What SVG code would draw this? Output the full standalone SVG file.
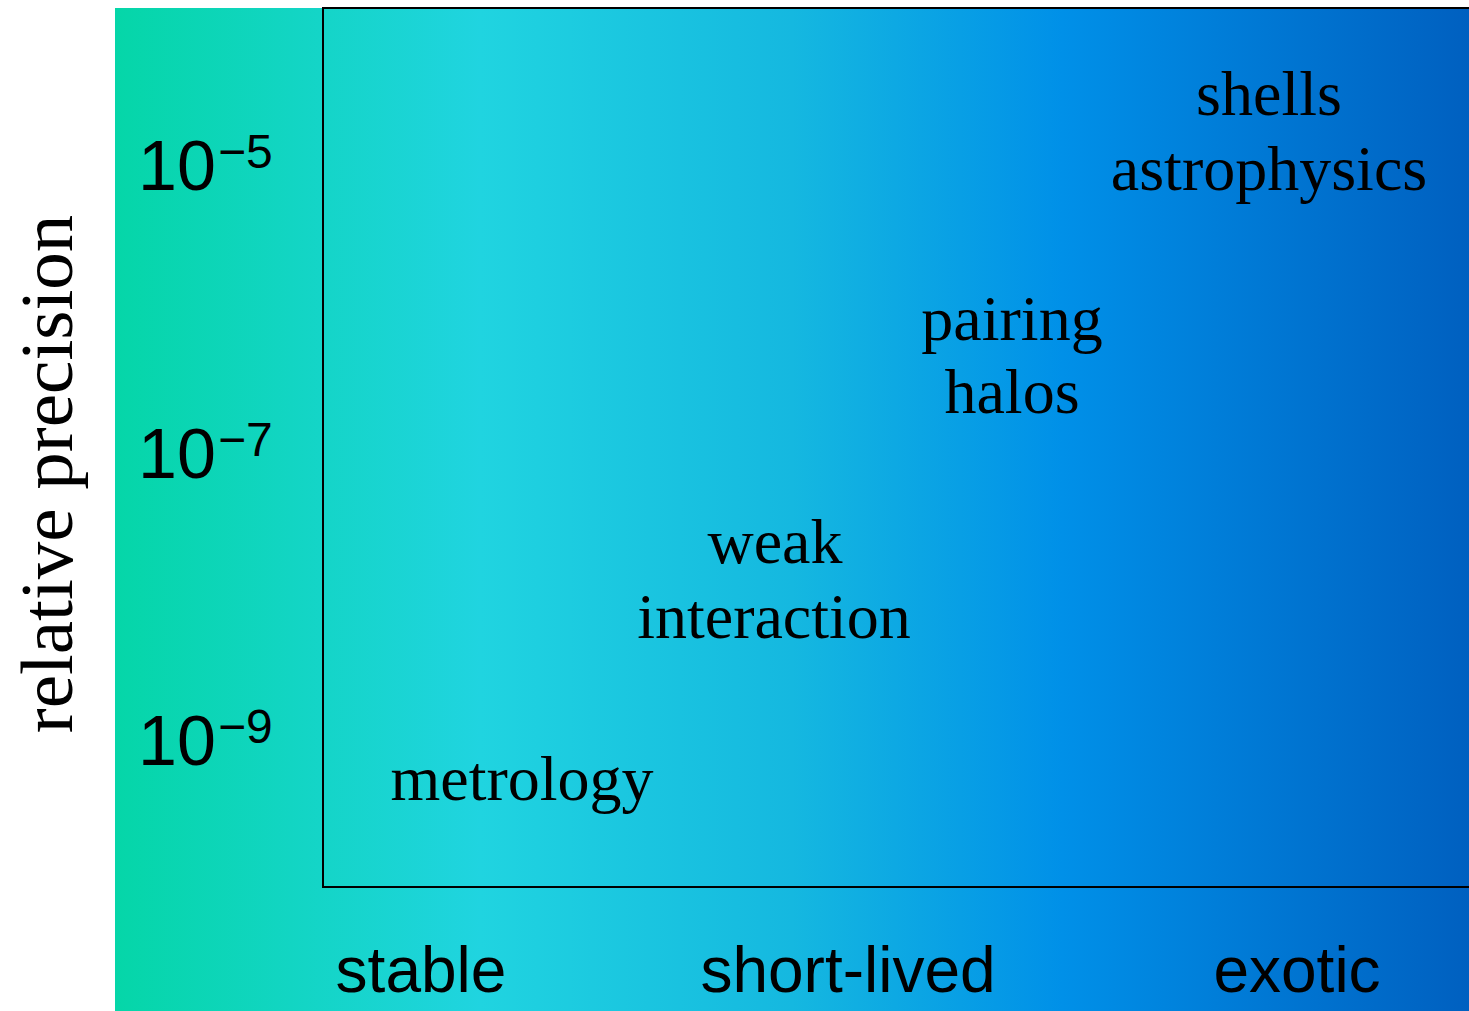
<svg xmlns="http://www.w3.org/2000/svg" width="1469" height="1011" viewBox="0 0 1469 1011">
<defs>
<linearGradient id="bg" x1="115" y1="0" x2="1469" y2="0" gradientUnits="userSpaceOnUse">
<stop offset="0" stop-color="#05d6a8"/>
<stop offset="0.27" stop-color="#20d4e0"/>
<stop offset="0.5" stop-color="#15b8e0"/>
<stop offset="0.7" stop-color="#0090e8"/>
<stop offset="1" stop-color="#0060c0"/>
</linearGradient>
<style>
.sans{font-family:"Liberation Sans",Arial,sans-serif;fill:#000}
.serif{font-family:"Liberation Serif","Times New Roman",serif;fill:#000}
.tick{font-size:70px}
.sup{font-size:48px}
.lab{font-size:64px;text-anchor:middle}
.cat{font-size:64px;text-anchor:middle}
</style>
</defs>
<rect x="0" y="0" width="1469" height="1011" fill="#fff"/>
<rect x="115" y="8" width="1354" height="1003" fill="url(#bg)"/>
<rect id="frame" x="323" y="8" width="1150" height="879" fill="none" stroke="#000" stroke-width="2"/>
<g id="yaxis">
<text class="serif" font-size="75" transform="translate(72,474) rotate(-90)" text-anchor="middle">relative precision</text>
<text class="sans tick" x="138" y="190">10<tspan class="sup" dx="2" dy="-22">−5</tspan></text>
<text class="sans tick" x="138" y="478">10<tspan class="sup" dx="2" dy="-22">−7</tspan></text>
<text class="sans tick" x="138" y="765">10<tspan class="sup" dx="2" dy="-22">−9</tspan></text>
</g>
<g id="xaxis">
<text class="sans cat" x="421" y="992">stable</text>
<text class="sans cat" x="848" y="992">short-lived</text>
<text class="sans cat" x="1297" y="992">exotic</text>
</g>
<g id="metrology"><text class="serif lab" x="522" y="800">metrology</text></g>
<g id="weak"><text class="serif lab" x="775" y="563">weak</text><text class="serif lab" x="774" y="638">interaction</text></g>
<g id="pairing"><text class="serif lab" x="1012" y="340">pairing</text><text class="serif lab" x="1012" y="413">halos</text></g>
<g id="shells"><text class="serif lab" x="1269" y="115">shells</text><text class="serif lab" x="1269" y="190">astrophysics</text></g>
<g id="connectors"/>
</svg>
